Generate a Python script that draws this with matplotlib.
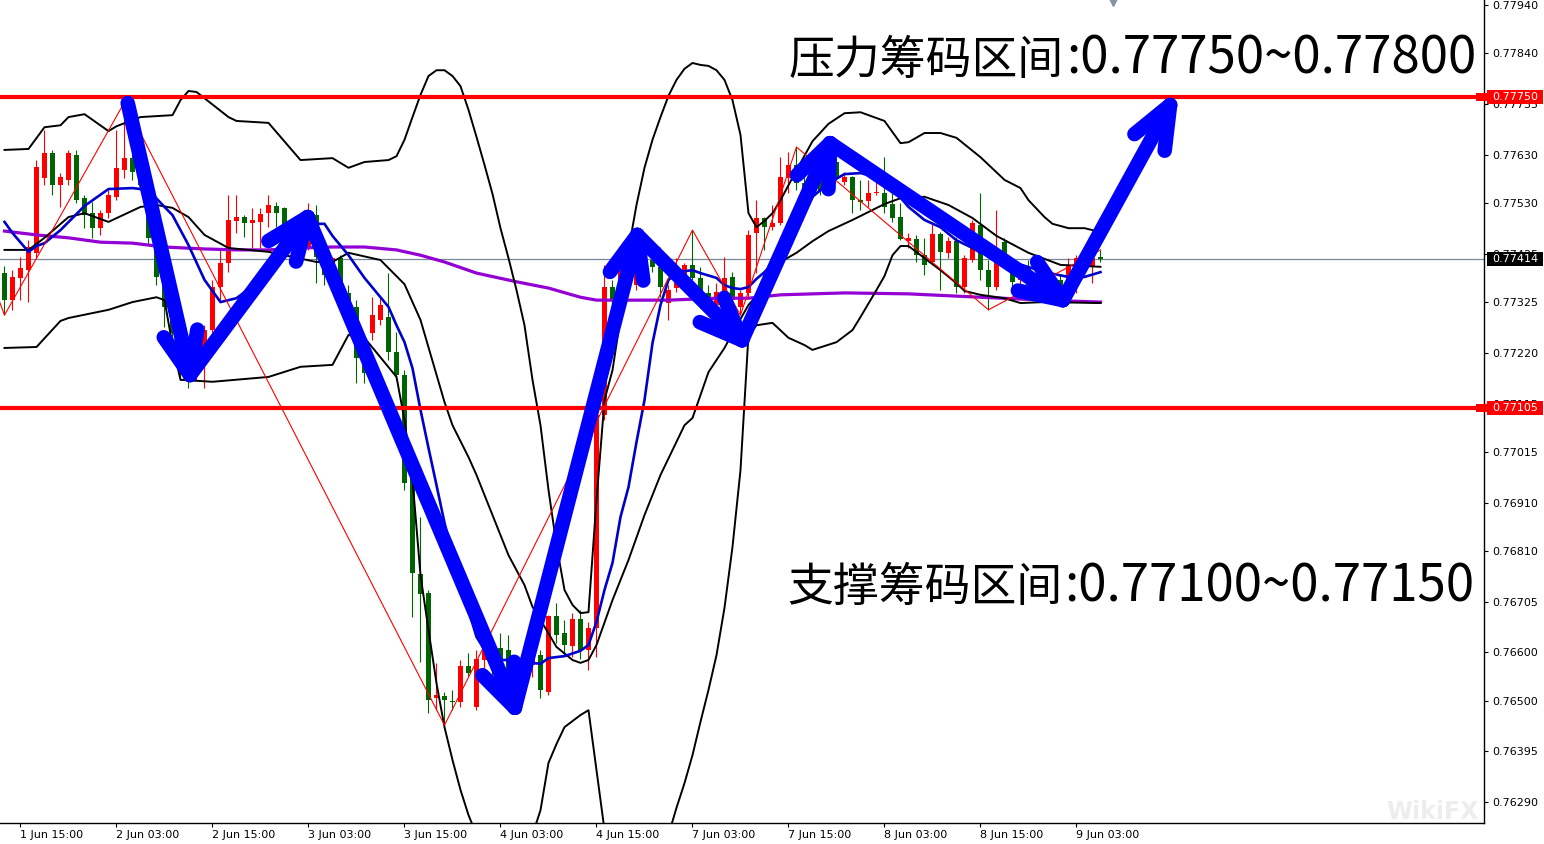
import numpy as np
import matplotlib
matplotlib.use('Agg')
import matplotlib.pyplot as plt
import matplotlib.transforms as mtransforms
from matplotlib.patches import Rectangle

# AUDUSD H1, prices in points (1e-5)
open_pts = [77385, 77329, 77375, 77391, 77427, 77582, 77634, 77567, 77578, 77629,
            77540, 77509, 77478, 77509, 77543, 77598, 77623, 77594, 77567, 77458,
            77377, 77315, 77261, 77211, 77193, 77205, 77267, 77356, 77406, 77493,
            77501, 77489, 77491, 77509, 77524, 77520, 77468, 77443, 77439, 77505,
            77418, 77381, 77416, 77344, 77315, 77211, 77261, 77288, 77294, 77222,
            77174, 76977, 76762, 76723, 76505, 76509, 76499, 76497, 76572, 76487,
            76584, 76605, 76609, 76605, 76543, 76594, 76574, 76594, 76518, 76675,
            76640, 76613, 76669, 76605, 76650, 77091, 77356, 77329, 77391, 77360,
            77412, 77412, 77398, 77323, 77354, 77371, 77402, 77375, 77344, 77319,
            77335, 77377, 77315, 77344, 77468, 77499, 77480, 77489, 77582, 77609,
            77571, 77547, 77578, 77557, 77615, 77574, 77584, 77536, 77534, 77551,
            77551, 77528, 77501, 77451, 77456, 77422, 77408, 77466, 77427, 77451,
            77356, 77412, 77485, 77391, 77356, 77449, 77391, 77371, 77396, 77360,
            77381, 77350, 77371, 77354, 77398, 77391, 77398, 77418]
high_pts = [77400, 77391, 77418, 77453, 77619, 77681, 77640, 77592, 77640, 77640,
            77547, 77532, 77516, 77557, 77681, 77739, 77640, 77609, 77578, 77464,
            77391, 77329, 77277, 77246, 77226, 77277, 77371, 77433, 77547, 77547,
            77505, 77520, 77520, 77547, 77532, 77522, 77478, 77458, 77530, 77526,
            77422, 77418, 77422, 77360, 77329, 77226, 77335, 77335, 77385, 77263,
            77184, 77008, 76880, 76729, 76578, 76518, 76522, 76584, 76598, 76605,
            76625, 76615, 76640, 76636, 76594, 76605, 76590, 76605, 76677, 76702,
            76667, 76681, 76687, 76663, 77102, 77402, 77371, 77408, 77402, 77437,
            77437, 77422, 77439, 77360, 77416, 77406, 77474, 77398, 77360, 77364,
            77418, 77387, 77350, 77474, 77536, 77501, 77526, 77625, 77636, 77646,
            77588, 77594, 77588, 77623, 77625, 77594, 77586, 77578, 77578, 77574,
            77625, 77551, 77530, 77468, 77464, 77458, 77491, 77470, 77460, 77460,
            77422, 77495, 77551, 77412, 77516, 77458, 77406, 77402, 77412, 77396,
            77391, 77387, 77381, 77416, 77422, 77422, 77427, 77433]
low_pts = [77298, 77309, 77329, 77325, 77416, 77567, 77547, 77522, 77567, 77530,
           77478, 77458, 77464, 77499, 77536, 77582, 77578, 77557, 77443, 77360,
           77273, 77236, 77168, 77147, 77164, 77147, 77257, 77329, 77387, 77468,
           77460, 77437, 77437, 77480, 77480, 77439, 77433, 77429, 77433, 77364,
           77360, 77367, 77329, 77309, 77157, 77157, 77246, 77277, 77205, 77164,
           76936, 76673, 76580, 76474, 76480, 76449, 76480, 76487, 76551, 76480,
           76563, 76553, 76501, 76522, 76522, 76543, 76549, 76505, 76511, 76619,
           76594, 76590, 76586, 76563, 76590, 77081, 77309, 77319, 77346, 77350,
           77402, 77387, 77335, 77288, 77346, 77364, 77371, 77313, 77329, 77309,
           77329, 77325, 77298, 77335, 77385, 77433, 77474, 77485, 77551, 77557,
           77536, 77540, 77547, 77551, 77578, 77567, 77509, 77516, 77522, 77547,
           77509, 77491, 77453, 77437, 77408, 77381, 77406, 77350, 77416, 77344,
           77344, 77408, 77371, 77309, 77350, 77402, 77350, 77360, 77350, 77346,
           77340, 77338, 77340, 77346, 77344, 77381, 77364, 77408]
close_pts = [77329, 77377, 77396, 77439, 77605, 77634, 77567, 77584, 77634, 77536,
             77505, 77478, 77509, 77547, 77603, 77623, 77594, 77567, 77458, 77377,
             77315, 77261, 77211, 77195, 77205, 77267, 77356, 77406, 77495, 77501,
             77489, 77495, 77507, 77526, 77509, 77468, 77443, 77437, 77501, 77418,
             77381, 77416, 77344, 77315, 77209, 77178, 77298, 77319, 77222, 77174,
             76950, 76764, 76721, 76501, 76511, 76501, 76497, 76572, 76557, 76586,
             76605, 76574, 76569, 76543, 76584, 76563, 76584, 76522, 76675, 76636,
             76615, 76669, 76605, 76650, 77091, 77356, 77329, 77391, 77360, 77422,
             77422, 77398, 77356, 77350, 77385, 77402, 77375, 77344, 77335, 77346,
             77375, 77329, 77344, 77464, 77499, 77480, 77489, 77584, 77609, 77571,
             77547, 77578, 77557, 77609, 77584, 77584, 77536, 77532, 77551, 77553,
             77522, 77499, 77456, 77458, 77422, 77402, 77466, 77429, 77451, 77356,
             77416, 77489, 77391, 77356, 77412, 77412, 77367, 77391, 77360, 77381,
             77350, 77371, 77354, 77402, 77416, 77408, 77416, 77414]

# indicator lines: (bar, price in points)
upper_band = [(0, 77640), (3, 77642), (5, 77687), (7, 77691), (8, 77708), (10, 77714), (13, 77679),
              (14, 77689), (17, 77708), (21, 77712), (22, 77743), (23, 77762), (24, 77760), (25, 77747),
              (28, 77708), (29, 77700), (33, 77696), (37, 77619), (41, 77623), (43, 77603), (45, 77615),
              (48, 77619), (49, 77627), (50, 77661), (51, 77708), (52, 77754), (53, 77793), (54, 77805),
              (55, 77805), (56, 77793), (57, 77772), (58, 77723), (59, 77667), (60, 77609), (61, 77549),
              (62, 77478), (63, 77416), (64, 77350), (65, 77277), (66, 77164), (67, 77070), (68, 76936),
              (69, 76822), (70, 76729), (71, 76698), (72, 76681), (73, 76683), (74, 76915), (75, 77122),
              (76, 77184), (77, 77292), (78, 77433), (79, 77526), (80, 77603), (81, 77661), (82, 77708),
              (83, 77752), (84, 77785), (85, 77808), (86, 77820), (87, 77816), (88, 77814), (89, 77805),
              (90, 77785), (91, 77743), (92, 77671), (93, 77509), (94, 77480), (95, 77493), (96, 77509),
              (97, 77536), (99, 77598), (101, 77658), (103, 77694), (105, 77716), (107, 77718),
              (110, 77700), (112, 77654), (113, 77656), (115, 77675), (117, 77675), (119, 77665),
              (122, 77625), (125, 77578), (127, 77561), (128, 77536), (130, 77501), (131, 77487),
              (133, 77478), (135, 77478), (137, 77470)]
middle_band = [(0, 77433), (3, 77433), (5, 77458), (8, 77501), (10, 77509), (13, 77491), (17, 77522),
               (19, 77526), (21, 77520), (23, 77501), (25, 77464), (28, 77437), (33, 77429), (39, 77408),
               (41, 77408), (43, 77427), (47, 77412), (50, 77362), (52, 77288), (55, 77118), (56, 77070),
               (58, 77004), (59, 76967), (61, 76884), (63, 76801), (65, 76739), (66, 76694), (67, 76667),
               (69, 76611), (71, 76584), (72, 76578), (73, 76584), (74, 76615), (76, 76708), (78, 76791),
               (80, 76884), (82, 76967), (85, 77070), (86, 77085), (88, 77180), (90, 77230), (91, 77261),
               (93, 77319), (95, 77356), (97, 77408), (99, 77427), (101, 77451), (103, 77472), (106, 77495),
               (110, 77528), (112, 77540), (115, 77543), (118, 77526), (121, 77499), (124, 77462),
               (128, 77427), (132, 77402), (137, 77398)]
lower_band = [(0, 77230), (4, 77232), (7, 77286), (8, 77292), (13, 77309), (16, 77325), (19, 77335),
              (20, 77329), (21, 77236), (22, 77164), (26, 77160), (33, 77170), (37, 77191), (41, 77195),
              (43, 77257), (45, 77251), (49, 77170), (50, 77081), (51, 76957), (52, 76760), (53, 76646),
              (54, 76536), (55, 76445), (56, 76377), (57, 76315), (58, 76263), (59, 76222), (61, 76149),
              (63, 76149), (65, 76191), (66, 76222), (67, 76273), (68, 76371), (69, 76410), (70, 76445),
              (72, 76470), (73, 76480), (74, 76356), (75, 76232), (76, 76149), (78, 76025), (80, 75984),
              (82, 76087), (83, 76222), (84, 76278), (85, 76329), (86, 76387), (87, 76456), (88, 76522),
              (89, 76594), (90, 76692), (91, 76818), (92, 76977), (93, 77257), (94, 77277), (96, 77282),
              (98, 77251), (100, 77236), (101, 77226), (104, 77242), (106, 77267), (107, 77294),
              (109, 77350), (110, 77379), (111, 77422), (112, 77441), (113, 77441), (115, 77416),
              (117, 77391), (119, 77364), (120, 77348), (122, 77340), (125, 77333), (127, 77323),
              (130, 77325), (137, 77323)]
ma_fast = [(0, 77491), (1, 77468), (3, 77429), (4, 77441), (5, 77447), (7, 77474), (10, 77524),
           (13, 77559), (16, 77561), (18, 77557), (20, 77522), (21, 77505), (23, 77443), (25, 77371),
           (27, 77325), (29, 77333), (32, 77371), (34, 77424), (36, 77453), (38, 77487), (40, 77487),
           (41, 77462), (43, 77422), (45, 77375), (47, 77335), (48, 77315), (49, 77277), (50, 77242),
           (51, 77188), (52, 77102), (53, 77023), (54, 76946), (55, 76868), (56, 76801), (57, 76750),
           (58, 76687), (59, 76632), (60, 76605), (62, 76584), (64, 76584), (66, 76578), (67, 76576),
           (68, 76588), (70, 76592), (72, 76603), (73, 76615), (74, 76663), (75, 76729), (76, 76785),
           (77, 76880), (78, 76942), (79, 77035), (80, 77122), (81, 77240), (82, 77319), (83, 77371),
           (84, 77383), (85, 77389), (86, 77391), (87, 77385), (89, 77375), (90, 77360), (91, 77354),
           (92, 77352), (93, 77356), (94, 77373), (95, 77387), (97, 77422), (99, 77491), (101, 77543),
           (103, 77571), (105, 77590), (107, 77592), (109, 77584), (111, 77561), (113, 77522),
           (115, 77495), (117, 77480), (119, 77453), (121, 77437), (122, 77427), (126, 77408),
           (130, 77387), (133, 77377), (135, 77377), (137, 77387)]
ma_slow = [(0, 77472), (4, 77464), (8, 77458), (12, 77449), (16, 77447), (20, 77439), (25, 77435),
           (29, 77433), (33, 77433), (37, 77437), (41, 77439), (45, 77439), (49, 77433), (52, 77422),
           (55, 77408), (59, 77385), (64, 77367), (68, 77354), (72, 77335), (74, 77329), (76, 77329),
           (83, 77329), (89, 77333), (93, 77333), (97, 77340), (105, 77344), (113, 77342), (122, 77335),
           (130, 77329), (137, 77325)]
zigzag = [(-3, 77433), (0, 77298), (15, 77739), (55, 76449), (86, 77474), (92, 77298), (99, 77646),
          (123, 77309), (137, 77433)]

# hand-drawn trend arrows
arrow_path = [(15.4, 77737), (23.2, 77174), (37.9, 77501), (63.8, 76485), (79.1, 77464),
              (92.2, 77246), (103.2, 77654), (132.3, 77329), (145.7, 77733)]

resistance = 0.77750
support = 0.77105
last_price = 0.77414
y_ticks = [0.77940, 0.77840, 0.77735, 0.77630, 0.77530, 0.77425, 0.77325, 0.77220, 0.77115,
           0.77015, 0.76910, 0.76810, 0.76705, 0.76600, 0.76500, 0.76395, 0.76290]
date_bars = [2, 14, 26, 38, 50, 62, 74, 86, 98, 110, 122, 134]
date_labels = ['1 Jun 15:00', '2 Jun 03:00', '2 Jun 15:00', '3 Jun 03:00', '3 Jun 15:00',
               '4 Jun 03:00', '4 Jun 15:00', '7 Jun 03:00', '7 Jun 15:00', '8 Jun 03:00',
               '8 Jun 15:00', '9 Jun 03:00']

o = np.array(open_pts) / 1e5
h = np.array(high_pts) / 1e5
l = np.array(low_pts) / 1e5
c = np.array(close_pts) / 1e5
x = np.arange(len(o))

W, H = 1544, 844
fig = plt.figure(figsize=(W / 100, H / 100), dpi=100)
ax = fig.add_axes([0, 21 / H, 1484 / W, 823 / H])
ax.set_xlim(-0.5625, 184.94)
ax.set_ylim(0.762465, 0.779504)

# candles
col = np.where(c >= o, '#ff0000', '#006400')
ax.vlines(x, l, h, colors=col, lw=0.8, zorder=3)
ax.bar(x, np.maximum(np.abs(c - o), 0.00002), bottom=np.minimum(o, c), width=0.62,
       color=col, lw=0, zorder=3)


def line(pts, **kw):
    a = np.array(pts, dtype=float)
    ax.plot(a[:, 0], a[:, 1] / 1e5, **kw)


line(ma_slow, color='#9400d3', lw=2.3, zorder=4)
for band in (upper_band, middle_band, lower_band):
    line(band, color='black', lw=1.4, zorder=4)
line(ma_fast, color='#0000cd', lw=1.9, zorder=4)
line(zigzag, color='red', lw=0.8, zorder=4)

ax.axhline(last_price, color='#778899', lw=0.9, zorder=2)
ax.axhline(resistance, color='#ff0000', lw=3, zorder=5)
ax.axhline(support, color='#ff0000', lw=3, zorder=5)

# arrows
blue = '#0000ff'
pts = [(b, p / 1e5) for b, p in arrow_path]
for p0, p1 in zip(pts[:-1], pts[1:]):
    ax.plot([p0[0], p1[0]], [p0[1], p1[1]], color=blue, lw=10.5,
            solid_capstyle='round', zorder=7)
    a = ax.transData.transform(p0)
    b = ax.transData.transform(p1)
    d = (a - b) / np.hypot(*(a - b))
    for ang in (22, -22):
        r = np.radians(ang)
        rot = np.array([[np.cos(r), -np.sin(r)], [np.sin(r), np.cos(r)]]) @ d
        q = ax.transData.inverted().transform(b + rot * 46)
        ax.plot([p1[0], q[0]], [p1[1], q[1]], color=blue, lw=10.5,
                solid_capstyle='round', zorder=7)

# axes style
for s in ('left', 'top'):
    ax.spines[s].set_visible(False)
ax.spines['right'].set_linewidth(1)
ax.spines['bottom'].set_linewidth(1)
ax.yaxis.tick_right()
ax.set_yticks(y_ticks)
ax.set_yticklabels([f'{v:.5f}' for v in y_ticks])
ax.tick_params(axis='y', direction='out', length=3, width=0.8, labelsize=8, pad=3)
ax.set_xticks(date_bars)
ax.set_xticklabels(date_labels, ha='left')
ax.tick_params(axis='x', direction='out', length=3, width=0.8, labelsize=8, pad=2)

# price tags on the axis
tr = mtransforms.blended_transform_factory(ax.transAxes, ax.transData)
for price, fc in ((resistance, '#ff0000'), (support, '#ff0000'), (last_price, 'black')):
    ax.add_patch(Rectangle((1.002, price - 0.000145), 0.0377, 0.00029, transform=tr,
                           fc=fc, ec='none', clip_on=False, zorder=8))
    if fc != 'black':
        ax.add_patch(Rectangle((0.9946, price - 0.00008), 0.0095, 0.00016, transform=tr,
                               fc=fc, ec='none', clip_on=False, zorder=8))
    ax.text(1.0054, price, f'{price:.5f}', transform=tr, ha='left', va='center',
            color='white', fontsize=8, clip_on=False, zorder=9)

# chart shift marker and watermark
ax.plot([138.6], [0.779504], marker='v', ms=9, color='#8494a4', clip_on=False, zorder=9)
fig.text(1432 / W, 1 - 812 / H, 'WikiFX', fontsize=17, color='#ededed', ha='center',
         va='center', fontweight='bold')

# annotations
cjk = 'Noto Sans CJK SC'
fig.text(789 / W, 1 - 74 / H, '压力筹码区间', fontsize=33, family=cjk, ha='left', va='baseline')
fig.text(1066 / W, 1 - 74 / H, ':0.77750~0.77800', fontsize=36.7, family=cjk,
         ha='left', va='baseline')
fig.text(787 / W, 1 - 601 / H, '支撑筹码区间', fontsize=33, family=cjk, ha='left', va='baseline')
fig.text(1064 / W, 1 - 601 / H, ':0.77100~0.77150', fontsize=36.7, family=cjk,
         ha='left', va='baseline')

fig.savefig('out.png', dpi=100, facecolor='white')
